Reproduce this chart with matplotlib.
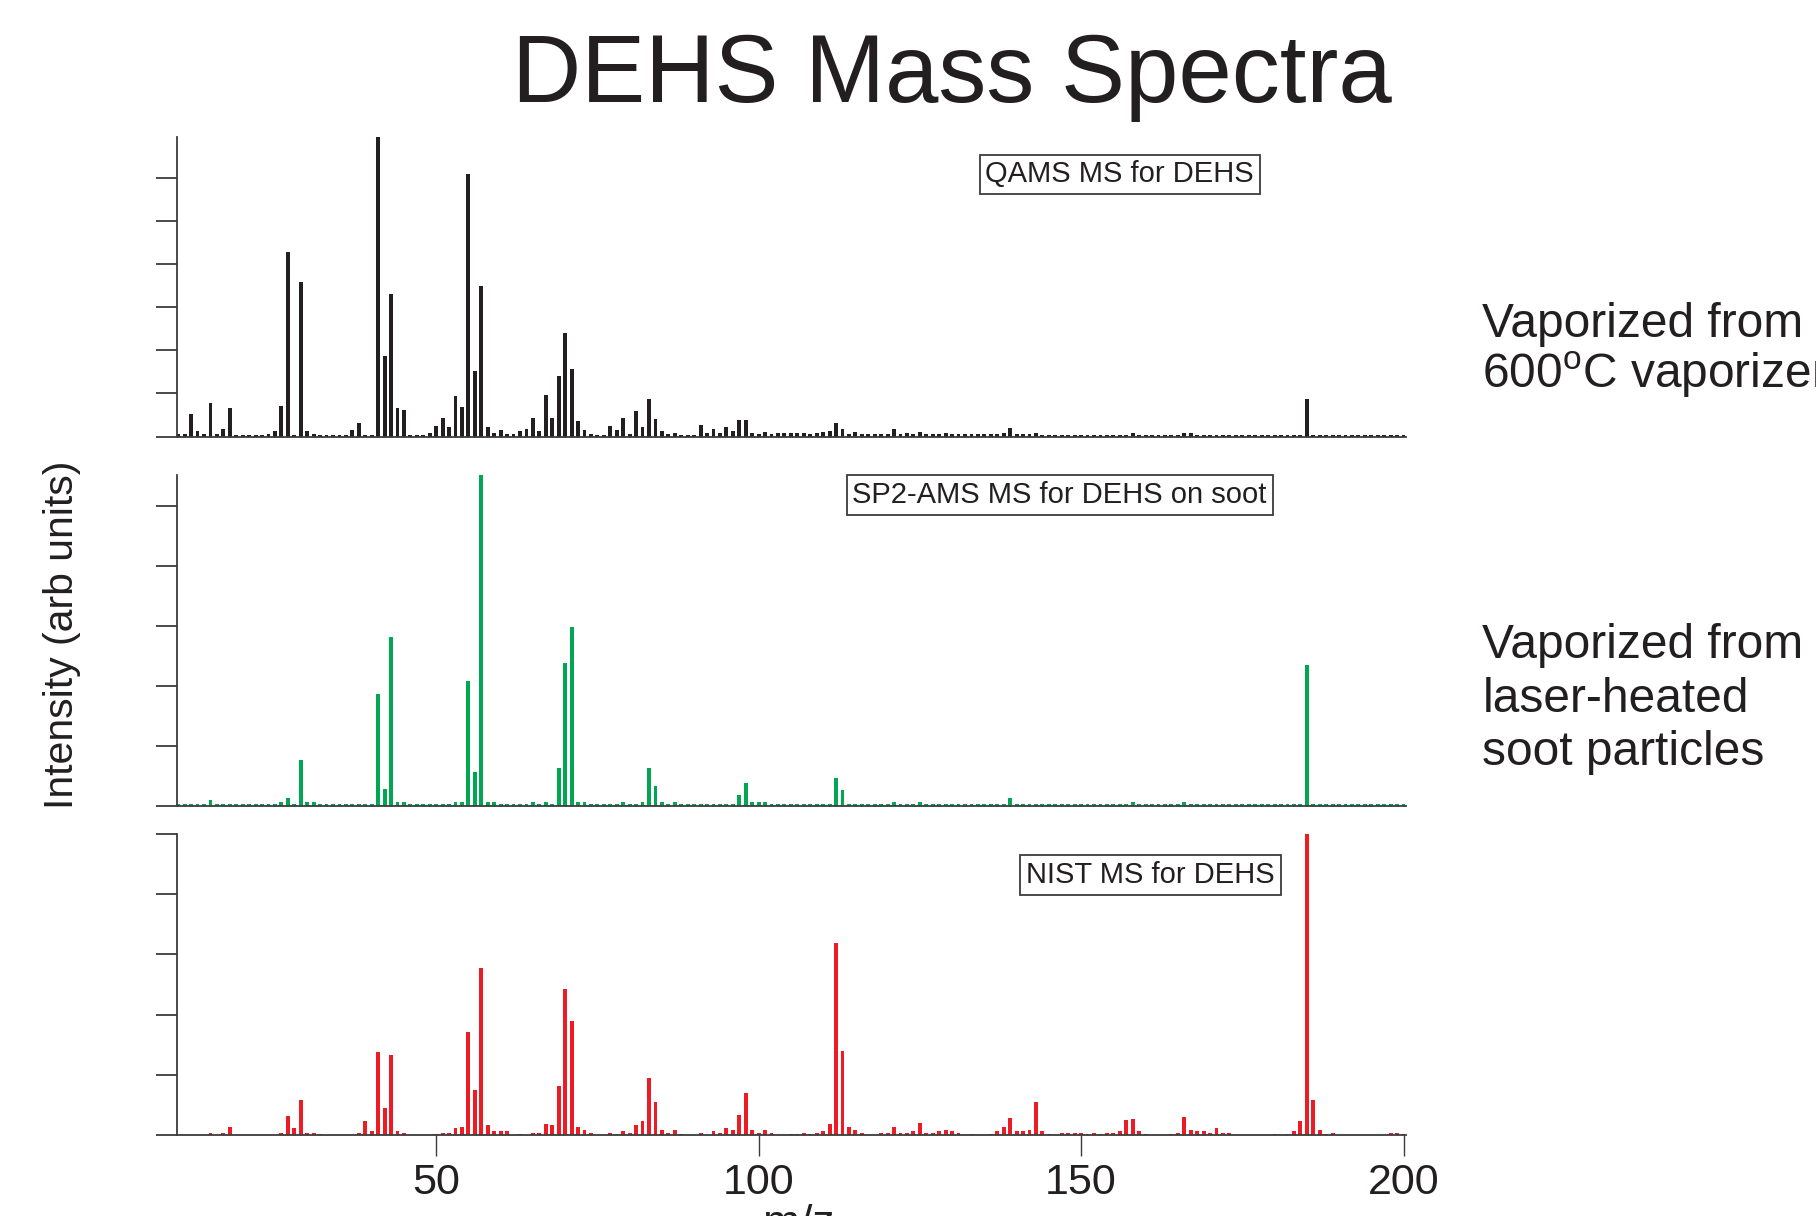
import numpy as np
import matplotlib
matplotlib.use("Agg")
import matplotlib.pyplot as plt
from matplotlib import font_manager

plt.rcParams['font.family'] = ['Liberation Sans', 'DejaVu Sans']
plt.rcParams['mathtext.fontset'] = 'custom'
plt.rcParams['mathtext.rm'] = 'Liberation Sans'

# m/z channels for the two AMS spectra (10..200)
mz_ams = list(range(10, 201))

# QAMS MS for DEHS (arb units, one y tick = 1)
qams = [
    0.05, 0.05, 0.53, 0.12, 0.05, 0.78, 0.07, 0.18, 0.67, 0.04,
    0.04, 0.04, 0.04, 0.04, 0.07, 0.12, 0.70, 4.27, 0.04, 3.58,
    0.12, 0.05, 0.04, 0.04, 0.04, 0.04, 0.04, 0.15, 0.31, 0.04,
    0.04, 6.95, 1.87, 3.31, 0.66, 0.62, 0.04, 0.04, 0.04, 0.09,
    0.25, 0.44, 0.22, 0.94, 0.69, 6.08, 1.53, 3.49, 0.22, 0.09,
    0.15, 0.06, 0.06, 0.12, 0.18, 0.44, 0.12, 0.97, 0.44, 1.41,
    2.40, 1.56, 0.35, 0.15, 0.06, 0.04, 0.04, 0.25, 0.15, 0.44,
    0.06, 0.60, 0.22, 0.88, 0.41, 0.12, 0.06, 0.09, 0.04, 0.04,
    0.04, 0.27, 0.08, 0.17, 0.08, 0.23, 0.14, 0.38, 0.38, 0.08,
    0.05, 0.10, 0.05, 0.08, 0.08, 0.08, 0.08, 0.08, 0.05, 0.08,
    0.10, 0.14, 0.32, 0.17, 0.05, 0.10, 0.05, 0.05, 0.05, 0.05,
    0.05, 0.17, 0.05, 0.08, 0.05, 0.10, 0.05, 0.05, 0.05, 0.08,
    0.05, 0.05, 0.05, 0.05, 0.05, 0.05, 0.05, 0.05, 0.08, 0.19,
    0.05, 0.05, 0.05, 0.08, 0.04, 0.04, 0.04, 0.04, 0.04, 0.04,
    0.04, 0.04, 0.04, 0.04, 0.04, 0.04, 0.04, 0.04, 0.08, 0.04,
    0.04, 0.04, 0.04, 0.04, 0.04, 0.04, 0.08, 0.08, 0.04, 0.04,
    0.04, 0.04, 0.04, 0.04, 0.04, 0.04, 0.04, 0.04, 0.04, 0.04,
    0.04, 0.04, 0.04, 0.04, 0.04, 0.86, 0.04, 0.04, 0.04, 0.04,
    0.04, 0.04, 0.04, 0.04, 0.04, 0.04, 0.04, 0.04, 0.04, 0.04,
    0.04,
]

# SP2-AMS MS for DEHS on soot
sp2 = [
    0.03, 0.03, 0.03, 0.03, 0.03, 0.10, 0.03, 0.03, 0.03, 0.03,
    0.03, 0.03, 0.03, 0.03, 0.03, 0.03, 0.06, 0.14, 0.03, 0.77,
    0.06, 0.06, 0.03, 0.03, 0.03, 0.03, 0.03, 0.03, 0.03, 0.03,
    0.03, 1.86, 0.28, 2.82, 0.06, 0.06, 0.03, 0.03, 0.03, 0.03,
    0.03, 0.03, 0.03, 0.06, 0.06, 2.08, 0.57, 5.52, 0.07, 0.06,
    0.03, 0.03, 0.03, 0.03, 0.03, 0.06, 0.03, 0.07, 0.03, 0.64,
    2.39, 2.98, 0.06, 0.06, 0.03, 0.03, 0.03, 0.03, 0.03, 0.06,
    0.03, 0.03, 0.07, 0.64, 0.34, 0.06, 0.03, 0.06, 0.03, 0.03,
    0.03, 0.03, 0.03, 0.03, 0.03, 0.03, 0.03, 0.19, 0.39, 0.06,
    0.06, 0.06, 0.03, 0.03, 0.03, 0.03, 0.03, 0.03, 0.03, 0.03,
    0.03, 0.03, 0.46, 0.26, 0.03, 0.03, 0.03, 0.03, 0.03, 0.03,
    0.03, 0.07, 0.03, 0.03, 0.03, 0.06, 0.03, 0.03, 0.03, 0.03,
    0.03, 0.03, 0.03, 0.03, 0.03, 0.03, 0.03, 0.03, 0.03, 0.14,
    0.03, 0.03, 0.03, 0.03, 0.03, 0.03, 0.03, 0.03, 0.03, 0.03,
    0.03, 0.03, 0.03, 0.03, 0.03, 0.03, 0.03, 0.03, 0.06, 0.03,
    0.03, 0.03, 0.03, 0.03, 0.03, 0.03, 0.06, 0.03, 0.03, 0.03,
    0.03, 0.03, 0.03, 0.03, 0.03, 0.03, 0.03, 0.03, 0.03, 0.03,
    0.03, 0.03, 0.03, 0.03, 0.03, 2.35, 0.03, 0.03, 0.03, 0.03,
    0.03, 0.03, 0.03, 0.03, 0.03, 0.03, 0.03, 0.03, 0.03, 0.03,
    0.03,
]

# NIST MS for DEHS (only the channels that carry a peak)
mz_nist = [15, 17, 18, 26, 27, 28, 29, 30, 31, 32,
           38, 39, 40, 41, 42, 43, 44, 45, 50, 51,
           52, 53, 54, 55, 56, 57, 58, 59, 60, 61,
           63, 65, 66, 67, 68, 69, 70, 71, 72, 73,
           74, 77, 78, 79, 80, 81, 82, 83, 84, 85,
           86, 87, 88, 91, 93, 94, 95, 96, 97, 98,
           99, 100, 101, 102, 105, 106, 107, 108, 109, 110,
           111, 112, 113, 114, 115, 116, 119, 120, 121, 122,
           123, 124, 125, 126, 127, 128, 129, 130, 131, 133,
           136, 137, 138, 139, 140, 141, 142, 143, 144, 145,
           147, 148, 149, 150, 151, 152, 153, 154, 155, 156,
           157, 158, 159, 160, 164, 165, 166, 167, 168, 169,
           170, 171, 172, 173, 180, 182, 183, 184, 185, 186,
           187, 188, 189, 198, 199, 200]
nist = [0.04, 0.04, 0.14, 0.04, 0.32, 0.11, 0.58, 0.04, 0.04, 0.01,
        0.04, 0.23, 0.07, 1.37, 0.45, 1.33, 0.07, 0.04, 0.01, 0.04,
        0.04, 0.11, 0.14, 1.71, 0.74, 2.77, 0.16, 0.07, 0.07, 0.07,
        0.01, 0.04, 0.04, 0.18, 0.16, 0.81, 2.43, 1.90, 0.14, 0.09,
        0.04, 0.04, 0.01, 0.07, 0.04, 0.16, 0.23, 0.94, 0.54, 0.09,
        0.04, 0.09, 0.01, 0.04, 0.07, 0.04, 0.11, 0.09, 0.34, 0.69,
        0.09, 0.04, 0.09, 0.04, 0.01, 0.01, 0.04, 0.01, 0.04, 0.07,
        0.18, 3.18, 1.39, 0.14, 0.09, 0.04, 0.04, 0.04, 0.14, 0.04,
        0.04, 0.07, 0.20, 0.04, 0.04, 0.07, 0.09, 0.07, 0.04, 0.01,
        0.01, 0.07, 0.14, 0.29, 0.07, 0.07, 0.09, 0.54, 0.07, 0.01,
        0.04, 0.04, 0.04, 0.04, 0.01, 0.04, 0.01, 0.04, 0.04, 0.07,
        0.25, 0.27, 0.07, 0.01, 0.01, 0.04, 0.30, 0.09, 0.07, 0.07,
        0.04, 0.11, 0.04, 0.04, 0.01, 0.01, 0.07, 0.23, 5.00, 0.58,
        0.09, 0.01, 0.04, 0.04, 0.04, 0.01]

panel_labels = ["QAMS MS for DEHS", "SP2-AMS MS for DEHS on soot", "NIST MS for DEHS"]
x_ticks = [50, 100, 150, 200]

names = {f.name for f in font_manager.fontManager.ttflist}
if 'Liberation Sans Narrow' in names:
    box_font, box_size = ['Liberation Sans Narrow', 'DejaVu Sans'], 25
else:
    box_font, box_size = ['Liberation Sans', 'DejaVu Sans'], 21

fig = plt.figure(figsize=(18.16, 12.16), dpi=100)

spine_c = '#3c3c3c'
ink = '#231f20'
panels = [
    dict(rect=[0.0976, 0.6410, 0.6767, 0.2466], top=6.95, yt=range(0, 7),
         x=mz_ams, y=qams, color='#231f20', lab=(0.767, 0.874)),
    dict(rect=[0.0976, 0.3372, 0.6767, 0.2723], top=5.52, yt=range(0, 6),
         x=mz_ams, y=sp2, color='#00a651', lab=(0.718, 0.940)),
    dict(rect=[0.0976, 0.0666, 0.6767, 0.2477], top=5.0, yt=range(0, 6),
         x=mz_nist, y=nist, color='#ed1c24', lab=(0.792, 0.863)),
]

for i, p in enumerate(panels):
    ax = fig.add_axes(p['rect'])
    ax.bar(p['x'], p['y'], width=0.6, color=p['color'], linewidth=0)
    ax.set_xlim(9.85, 200.4)
    ax.set_ylim(0, p['top'])
    for s in ['top', 'right']:
        ax.spines[s].set_visible(False)
    for s in ['left', 'bottom']:
        ax.spines[s].set_color(spine_c)
        ax.spines[s].set_linewidth(1.3)
    ax.set_yticks(list(p['yt']))
    ax.set_yticklabels([])
    ax.tick_params(axis='y', direction='out', length=15, width=1.3, color=spine_c)
    if i == 2:
        ax.set_xticks(x_ticks)
        ax.set_xticklabels([str(t) for t in x_ticks])
        ax.tick_params(axis='x', direction='out', length=15, width=1.0,
                       color=spine_c, labelsize=31, pad=5, labelcolor=ink)
    else:
        ax.set_xticks([])
    ax.text(p['lab'][0], p['lab'][1], panel_labels[i], transform=ax.transAxes,
            ha='center', va='center', fontsize=box_size, family=box_font,
            color=ink,
            bbox=dict(boxstyle='square,pad=0.2', fc='white', ec=spine_c, lw=1.3))

fig.text(0.524, 0.916, "DEHS Mass Spectra", ha='center', va='baseline',
         fontsize=69, color=ink)

fig.text(0.0402, 0.478, "Intensity (arb units)", rotation=90, rotation_mode='anchor',
         ha='center', va='baseline', fontsize=29.5, color=ink)

# x label sits mostly below the bottom edge, as in the original
fig.text(0.44, -0.0168, "m/z", ha='center', va='baseline', fontsize=32, color=ink)

side_lines = [("Vaporized from", 0.7229),
              ("600$^{\\mathrm{o}}$C vaporizer", 0.6809),
              ("Vaporized from", 0.4589),
              ("laser-heated", 0.4145),
              ("soot particles", 0.3709)]
for txt, yy in side_lines:
    fig.text(0.8163, yy, txt, ha='left', va='baseline', fontsize=34.5, color=ink)

fig.savefig("out.png", dpi=100)
